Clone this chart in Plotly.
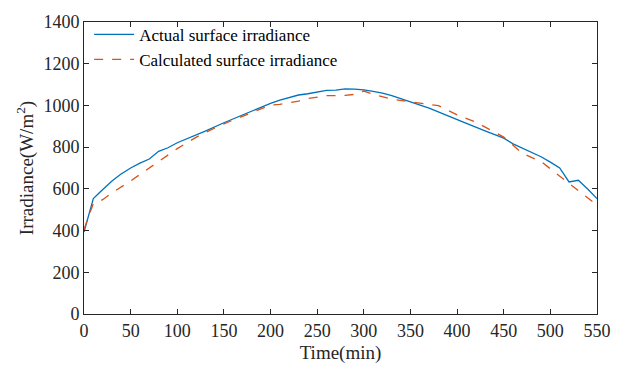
import plotly.graph_objects as go

t_actual = [0, 10, 17, 30, 39, 50, 60, 70, 80, 90, 100, 110, 120, 130, 150, 170, 190, 200, 210, 220, 230, 240, 250, 260, 270, 280, 290, 300, 310, 320, 330, 340, 350, 370, 390, 400, 410, 430, 450, 460, 480, 490, 500, 510, 520, 530, 540, 550]
actual = [393, 553, 584, 638, 669, 700, 723, 743, 780, 797, 821, 839, 858, 877, 917, 955, 994, 1010, 1025, 1038, 1050, 1056, 1064, 1072, 1073, 1079, 1078, 1075, 1067, 1059, 1047, 1033, 1017, 987, 952, 932, 914, 878, 843, 816, 777, 754, 728, 700, 633, 641, 599, 553]

t_calc = [0, 10, 20, 30, 50, 70, 80, 100, 120, 130, 150, 170, 190, 200, 210, 230, 240, 260, 280, 290, 300, 310, 330, 350, 360, 370, 380, 400, 420, 450, 460, 470, 490, 510, 530, 550]
calc = [406, 530, 548, 581, 638, 700, 731, 793, 847, 870, 912, 948, 987, 1002, 1005, 1021, 1033, 1047, 1048, 1053, 1069, 1053, 1030, 1017, 1014, 1007, 999, 955, 920, 848, 808, 770, 731, 661, 592, 522]

x_ticks = list(range(0, 551, 50))
y_ticks = list(range(0, 1401, 200))

SERIF = "Liberation Serif, Times New Roman, serif"

fig = go.Figure()
fig.add_trace(go.Scatter(x=t_actual, y=actual, mode="lines", name="Actual surface irradiance",
                         line=dict(color="#0072BD", width=1.3)))
fig.add_trace(go.Scatter(x=t_calc, y=calc, mode="lines", name="Calculated surface irradiance",
                         line=dict(color="#D95319", width=1.3, dash="dash")))

axis_common = dict(showgrid=False, zeroline=False, showline=True, linecolor="#262626", linewidth=1,
                   mirror="ticks", ticks="inside", ticklen=5, tickcolor="#262626",
                   tickfont=dict(family=SERIF, size=18, color="#262626"))

fig.update_xaxes(range=[0, 550], tickvals=x_ticks,
                 title=dict(text="Time(min)", font=dict(family=SERIF, size=19, color="#262626"), standoff=6),
                 **axis_common)
fig.update_yaxes(range=[0, 1400], tickvals=y_ticks,
                 title=dict(text="Irradiance(W/m<sup>2</sup>)", font=dict(family=SERIF, size=19, color="#262626"), standoff=4),
                 **axis_common)

fig.update_layout(width=628, height=373, margin=dict(l=84, r=31, t=15, b=59),
                  font=dict(family=SERIF),
                  plot_bgcolor="white", paper_bgcolor="white",
                  legend=dict(x=0.01, y=1.018, xanchor="left", yanchor="top", bgcolor="rgba(0,0,0,0)",
                              font=dict(family=SERIF, size=17, color="#000000"),
                              tracegroupgap=0, itemwidth=40))

fig.write_html("out.html")
